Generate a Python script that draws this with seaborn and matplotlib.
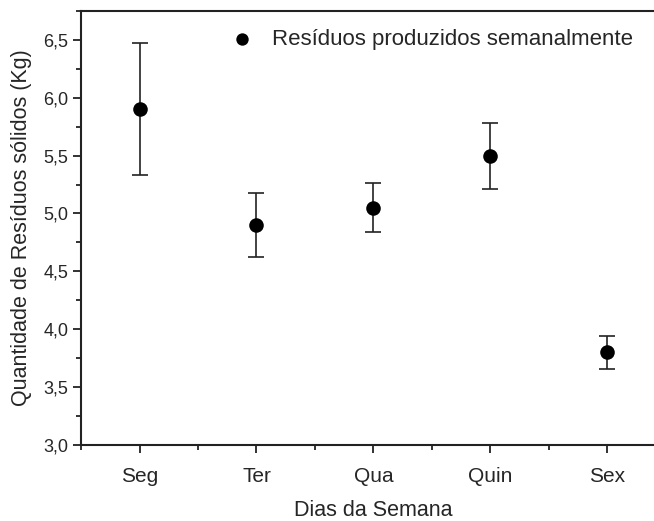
import numpy as np
import pandas as pd
import seaborn as sns
import matplotlib.pyplot as plt
from matplotlib.ticker import MultipleLocator, FuncFormatter, FixedLocator

# Data
dias = ["Seg", "Ter", "Qua", "Quin", "Sex"]
residuos = [5.90, 4.90, 5.05, 5.50, 3.80]
erro = [0.57, 0.28, 0.21, 0.285, 0.145]

df = pd.DataFrame({"dia": dias, "residuos": residuos, "erro": erro})

sns.set_style("ticks")
plt.rcParams["font.family"] = ["Liberation Sans", "DejaVu Sans"]

fig = plt.figure(figsize=(6.54, 5.21), dpi=100)
ax = fig.add_axes([0.124, 0.146, 0.894, 0.833])

ax.errorbar(np.arange(len(dias)), df["residuos"], yerr=df["erro"], fmt="none",
            ecolor="#222222", elinewidth=1.2, capsize=5.5, capthick=1.2, zorder=2)
sns.scatterplot(data=df, x="dia", y="residuos", ax=ax, color="black", s=110,
                marker="o", edgecolor="black", linewidth=0, zorder=3,
                label="Resíduos produzidos semanalmente")

ax.set_xlim(-0.5, 4.5)
ax.set_ylim(3.0, 6.75)
ax.yaxis.set_major_locator(MultipleLocator(0.5))
ax.yaxis.set_minor_locator(MultipleLocator(0.25))
ax.yaxis.set_major_formatter(FuncFormatter(lambda v, p: f"{v:.1f}".replace(".", ",")))
ax.xaxis.set_minor_locator(FixedLocator(np.arange(-0.5, 5, 1.0)))

ax.set_xlabel("Dias da Semana", fontsize=15.5, labelpad=10)
ax.set_ylabel("Quantidade de Resíduos sólidos (Kg)", fontsize=15.5, labelpad=8)
ax.tick_params(axis="x", labelsize=15, pad=10)
ax.tick_params(axis="y", labelsize=13, pad=3)
ax.tick_params(which="major", direction="out", length=6, width=1.3, color="#222222")
ax.tick_params(which="minor", direction="out", length=3.5, width=1.3, color="#222222")

for side in ["left", "bottom", "top", "right"]:
    ax.spines[side].set_linewidth(1.5)
    ax.spines[side].set_color("#222222")

ax.legend(loc="upper left", bbox_to_anchor=(0.207, 1.0), frameon=False, fontsize=16,
          handletextpad=0.35, borderaxespad=0.4, markerscale=0.85)

fig.savefig("out.png", dpi=100)
